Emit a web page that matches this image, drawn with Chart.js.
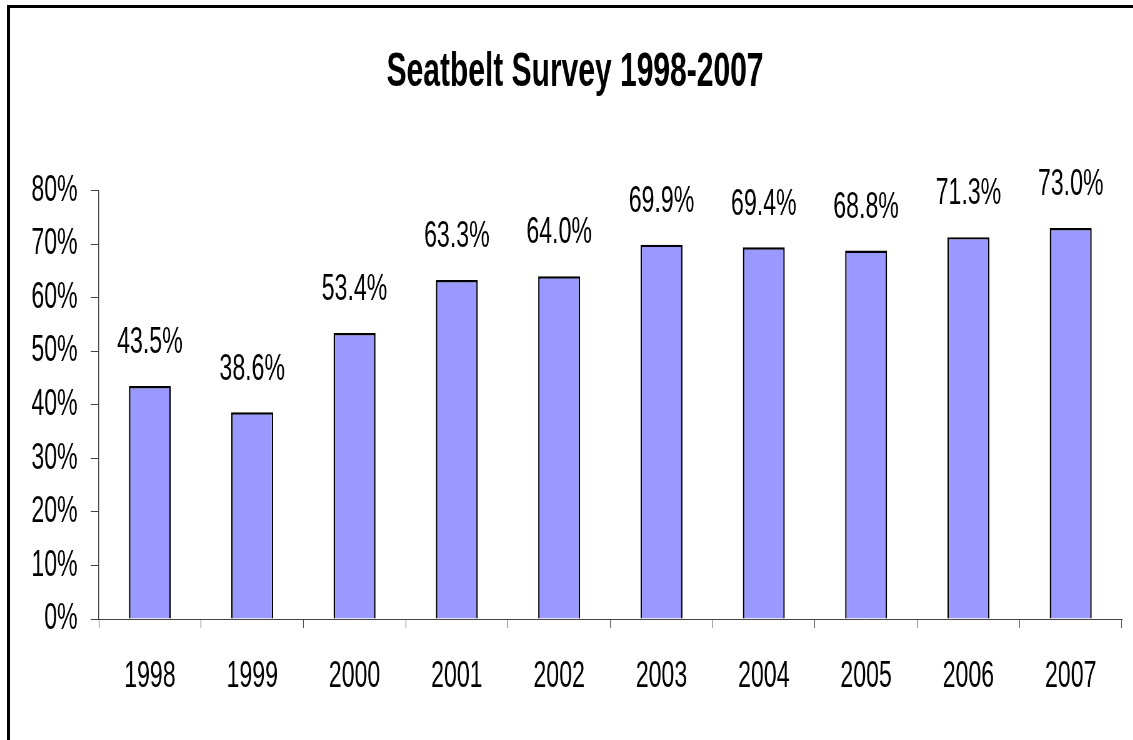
<!DOCTYPE html>
<html>
<head>
<meta charset="utf-8">
<script src="https://cdn.jsdelivr.net/npm/chart.js@4.4.1/dist/chart.umd.min.js"></script>
<style>
	html, body { margin:0; padding:0; background:#fff; overflow:hidden; }
	#frame { position:absolute; left:7px; top:5px; width:1300px; height:900px; border:3px solid #000; }
	#myChart { position:absolute; left:0; top:0; transform:scaleX(0.625); transform-origin:0 0; }
</style>
</head>
<body>
<div id="frame"></div>
<canvas id="myChart" width="1813" height="740"></canvas>
<script>
// chart data
const years = ['1998', '1999', '2000', '2001', '2002', '2003', '2004', '2005', '2006', '2007'];
const belted = [43.5, 38.6, 53.4, 63.3, 64.0, 69.9, 69.4, 68.8, 71.3, 73.0];
const yTicks = [0, 10, 20, 30, 40, 50, 60, 70, 80];

const FONT = "'Liberation Sans Narrow', 'Arial Narrow', 'Liberation Sans', Arial, sans-serif";
const SX = 0.625; // canvas is squeezed sideways by css so the text comes out narrow

// puts the value on top of each bar
const barLabels = {
	id: 'barLabels',
	afterDatasetsDraw(chart) {
		let ctx = chart.ctx;
		ctx.save();
		ctx.font = `37px ${FONT}`;
		ctx.fillStyle = '#000';
		ctx.textAlign = 'center';
		ctx.textBaseline = 'middle';
		chart.getDatasetMeta(0).data.forEach((bar, i) => {
			ctx.fillText(belted[i].toFixed(1) + '%', bar.x, bar.y - 43);
		});
		ctx.restore();
	}
};

Chart.defaults.font.family = FONT;
Chart.defaults.color = '#000';

new Chart(document.getElementById('myChart'), {
	type: 'bar',
	data: {
		labels: years,
		datasets: [{
			data: belted,
			backgroundColor: '#9999FF',
			borderColor: '#000',
			borderWidth: 2.4,
			barPercentage: 0.41,
			categoryPercentage: 1
		}]
	},
	options: {
		responsive: false,
		devicePixelRatio: 1,
		animation: false,
		layout: { padding: { left: 45, right: 18, top: 0, bottom: 0 } },
		plugins: {
			legend: { display: false },
			tooltip: { enabled: false },
			title: {
				display: true,
				text: 'Seatbelt Survey 1998-2007',
				font: { size: 48, weight: 'bold', family: FONT },
				color: '#000',
				padding: { top: 44, bottom: 89 }
			}
		},
		scales: {
			x: {
				grid: { display: true, drawOnChartArea: false, drawTicks: true, tickLength: 9, color: '#444', offset: true },
				border: { display: true, color: '#444', width: 1 },
				ticks: { font: { size: 37 }, padding: 27, color: '#000', maxRotation: 0 },
				afterFit: s => { s.height = 121; }
			},
			y: {
				min: 0,
				max: 80,
				afterBuildTicks: s => { s.ticks = yTicks.map(v => ({ value: v })); },
				grid: { display: true, drawOnChartArea: false, drawTicks: true, tickLength: 8 / SX, color: '#444' },
				border: { display: true, color: '#444', width: 1 / SX },
				ticks: { font: { size: 37 }, padding: 21, color: '#000', callback: v => v + '%' },
				afterFit: s => { s.width = 113; }
			}
		}
	},
	plugins: [barLabels]
});
</script>
</body>
</html>
